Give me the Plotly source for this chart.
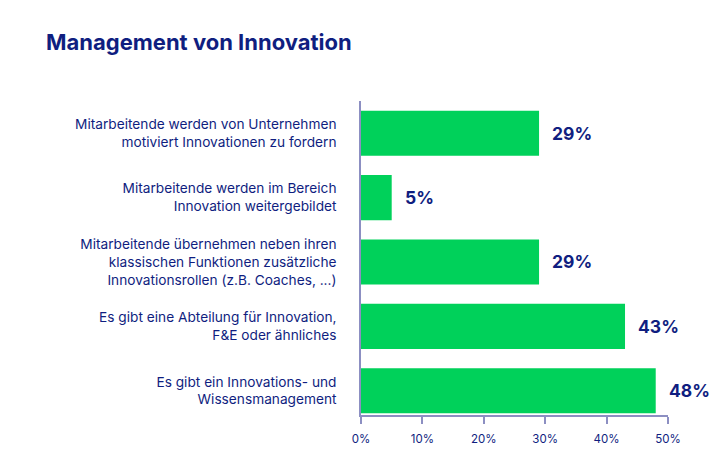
import plotly.graph_objects as go

categories = [
    "Mitarbeitende werden von Unternehmen<br>motiviert Innovationen zu fordern",
    "Mitarbeitende werden im Bereich<br>Innovation weitergebildet",
    "Mitarbeitende übernehmen neben ihren<br>klassischen Funktionen zusätzliche<br>Innovationsrollen (z.B. Coaches, ...)",
    "Es gibt eine Abteilung für Innovation,<br>F&E oder ähnliches",
    "Es gibt ein Innovations- und<br>Wissensmanagement",
]
values = [29, 5, 29, 43, 48]
value_labels = [f"{v}%" for v in values]
tick_vals = [0, 10, 20, 30, 40, 50]
tick_text = [f"{t}%" for t in tick_vals]

NAVY = "#0f1e80"
GREEN = "#00d15a"
AXIS = "#8c8fc2"
FONT = "Inter"

fig = go.Figure()
fig.add_trace(go.Bar(
    x=values, y=categories, orientation="h",
    marker=dict(color=GREEN, line=dict(width=0)),
    width=0.7, hoverinfo="skip",
))
for v, c, t in zip(values, categories, value_labels):
    fig.add_annotation(x=v, y=c, text=f"<b>{t}</b>", showarrow=False,
                       xanchor="left", yanchor="middle", xshift=11,
                       font=dict(family=FONT, size=17.5, color=NAVY))

fig.update_layout(
    width=719, height=458,
    margin=dict(l=353, r=59, t=93, b=51),
    paper_bgcolor="white", plot_bgcolor="white",
    showlegend=False,
    font=dict(family=FONT, color=NAVY),
    title=dict(text="<b>Management von Innovation</b>", xref="container", yref="container",
               x=38/719, xanchor="left", y=1-34/458, yanchor="middle",
               font=dict(family=FONT, size=22, color=NAVY)),
)
fig.update_xaxes(range=[0, 50], tickvals=tick_vals, ticktext=tick_text,
                 showgrid=False, zeroline=False, showline=True, linecolor=AXIS, linewidth=1.5,
                 ticks="outside", ticklen=7, tickwidth=1.5, tickcolor=AXIS,
                 ticklabelstandoff=5,
                 tickfont=dict(family=FONT, size=11.5, color=NAVY))
fig.update_yaxes(range=[4.376, -0.5], showgrid=False, zeroline=False,
                 showline=True, linecolor=AXIS, linewidth=1.5, ticks="",
                 ticklabelstandoff=20,
                 tickfont=dict(family=FONT, size=13.7, color=NAVY))

fig.write_html("out.html")
